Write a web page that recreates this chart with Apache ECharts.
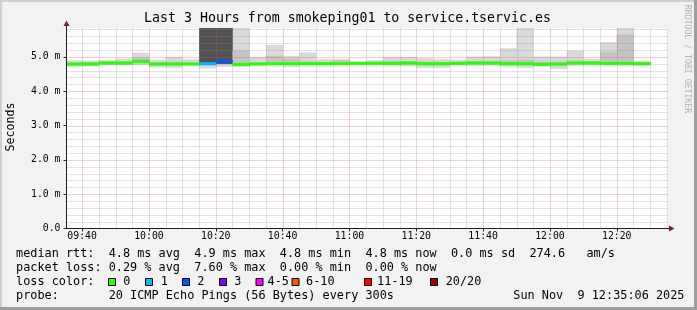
<!DOCTYPE html>
<html><head><meta charset="utf-8">
<script src="https://cdn.jsdelivr.net/npm/echarts@6/dist/echarts.min.js"></script>
<style>html,body{margin:0;padding:0;background:#f2f2f2}#c{width:697px;height:310px}</style>
</head><body><div id="c"></div>
<script>
// ---- data ----
const startMinute = 575;            // 09:35, start of the first 5-minute step
const stepMinutes = 5;
const xTickLabels = ['09:40','10:00','10:20','10:40','11:00','11:20','11:40','12:00','12:20'];
const yTickLabels = ['0.0','1.0 m','2.0 m','3.0 m','4.0 m','5.0 m'];
// median rtt per 5-min step (ms)
const median = [4.79,4.79,4.82,4.82,4.87,4.79,4.79,4.79,4.80,4.87,4.78,4.79,4.80,4.80,4.80,4.80,4.80,4.81,4.81,4.81,4.82,4.80,4.80,4.81,4.82,4.82,4.80,4.80,4.78,4.79,4.82,4.82,4.81,4.81,4.80];
// lost pings (of 20) per step
const lossCount = [0,0,0,0,0,0,0,0,1,2,0,0,0,0,0,0,0,0,0,0,0,0,0,0,0,0,0,0,0,0,0,0,0,0,0];
// smoke: full range of the 20 pings (ms)
const smokeMin = [4.71,4.73,4.76,4.76,4.76,4.69,4.68,4.76,4.66,4.71,4.71,4.76,4.76,4.71,4.76,4.76,4.76,4.77,4.76,4.74,4.73,4.68,4.68,4.75,4.74,4.74,4.72,4.68,4.72,4.65,4.74,4.75,4.74,4.74,4.74];
const smokeMax = [4.90,4.89,4.90,4.95,5.12,4.92,5.00,4.93,6.30,6.30,6.20,5.00,5.35,5.03,5.13,4.93,4.93,4.87,4.90,5.00,5.00,4.96,4.93,4.92,5.01,5.02,5.25,6.20,5.01,5.01,5.18,4.95,5.43,6.20,4.88];
// smoke: inner (denser) part of the pings (ms)
const smokeLow  = [4.75,4.75,4.78,4.78,4.80,4.75,4.75,4.76,4.76,4.79,4.74,4.76,4.76,4.76,4.76,4.76,4.77,4.77,4.77,4.78,4.78,4.75,4.75,4.77,4.78,4.78,4.76,4.75,4.74,4.74,4.78,4.78,4.77,4.77,4.76];
const smokeHigh = [4.84,4.84,4.87,4.88,4.98,4.85,4.86,4.84,6.30,6.30,5.19,4.85,5.03,4.95,4.87,4.86,4.90,4.85,4.86,4.88,4.88,4.86,4.86,4.86,4.88,4.88,4.90,4.92,4.86,4.86,4.90,4.88,5.15,5.65,4.84];
const lossLabels = ['0','1','2','3','4-5','6-10','11-19','20/20'];
const lossColors = ['#26ff00','#00b8ff','#0059ff','#7e00ff','#ff00ff','#ff5500','#ff0000','#a10000'];
const titleText = 'Last 3 Hours from smokeping01 to service.tservic.es';
const statsLines = [
  'median rtt:  4.8 ms avg  4.9 ms max  4.8 ms min  4.8 ms now  0.0 ms sd  274.6   am/s',
  'packet loss: 0.29 % avg  7.60 % max  0.00 % min  0.00 % now',
  'loss color:',
  'probe:       20 ICMP Echo Pings (56 Bytes) every 300s'
];
const dateText = 'Sun Nov  9 12:35:06 2025';

// ---- chart ----
const X_MIN = 575 + 20/60, X_MAX = X_MIN + 180, Y_MAX = 5.84;
const MONO = '"DejaVu Sans Mono", monospace';
const MINOR = 'rgba(143,143,143,0.5)', MAJOR = 'rgba(222,79,79,0.55)';
const xTickValues = xTickLabels.map(s => { const p = s.split(':'); return (+p[0])*60 + (+p[1]); });
function lossIndex(n){ if(n<=3) return n; if(n<=5) return 4; if(n<=10) return 5; if(n<=19) return 6; return 7; }
function clipRect(r, params){ const cs = params.coordSys; return echarts.graphic.clipRectByRect(r, {x:cs.x,y:cs.y,width:cs.width,height:cs.height}); }
function bandRender(fillFn){
  return (params, api) => {
    const x0 = api.value(0), lo = api.value(1), hi = api.value(2);
    const p1 = api.coord([x0, hi]), p2 = api.coord([x0 + stepMinutes, lo]);
    const shape = clipRect({x:p1[0], y:p1[1], width:p2[0]-p1[0]+0.4, height:p2[1]-p1[1]}, params);
    if (!shape) return null;
    return {type:'rect', shape, style:{fill: fillFn(params.dataIndex)}};
  };
}
const idx = median.map((_, i) => startMinute + i*stepMinutes);
const gridX = []; for (let m = 580; m <= 755; m += 5) gridX.push([m, 0]);
const gridY = []; for (let k = 1; k <= 29; k++) gridY.push([X_MIN, +(k*0.2).toFixed(1)]);

const graphics = [
  {type:'rect', shape:{x:0,y:0,width:697,height:2}, style:{fill:'#cfcfcf'}},
  {type:'rect', shape:{x:0,y:0,width:2,height:310}, style:{fill:'#cfcfcf'}},
  {type:'rect', shape:{x:694,y:0,width:3,height:310}, style:{fill:'#9e9e9e'}},
  {type:'rect', shape:{x:0,y:307,width:697,height:3}, style:{fill:'#9e9e9e'}},
  {type:'text', style:{text:titleText, x:347.5, y:18.5, font:'13.25px '+MONO, fill:'#000', align:'center', verticalAlign:'middle'}},
  {type:'text', rotation:Math.PI/2, x:10.5, y:127, style:{text:'Seconds', x:0, y:0, font:'11.6px '+MONO, fill:'#000', align:'center', verticalAlign:'middle'}},
  {type:'text', rotation:-Math.PI/2, x:687.5, y:59, style:{text:'RRDTOOL / TOBI OETIKER', x:0, y:0, font:'8.2px '+MONO, fill:'#b4b4b4', align:'center', verticalAlign:'middle'}},
  // axis extensions and arrows
  {type:'line', shape:{x1:66.5,y1:28,x2:66.5,y2:24}, style:{stroke:'#1f1f1f', lineWidth:1}},
  {type:'polygon', shape:{points:[[63.5,26],[69.5,26],[66.5,20.5]]}, style:{fill:'#801f1f'}},
  {type:'line', shape:{x1:668,y1:228.5,x2:671,y2:228.5}, style:{stroke:'#1f1f1f', lineWidth:1}},
  {type:'polygon', shape:{points:[[669,225.5],[669,231.5],[674.5,228.5]]}, style:{fill:'#801f1f'}}
];
statsLines.forEach((t, i) => graphics.push({type:'text', style:{text:t, x:16, y:254.3 + i*14, font:'11.85px '+MONO, fill:'#000', align:'left', verticalAlign:'middle'}}));
graphics.push({type:'text', style:{text:dateText, x:513.3, y:296.3, font:'11.85px '+MONO, fill:'#000', align:'left', verticalAlign:'middle'}});
const sqX = [108.5,145.5,182.5,219.5,256,292,364.5,430.5];
const lbX = [123.3,160.7,197.3,234.3,267.5,306,377,445.7];
lossLabels.forEach((l, i) => {
  graphics.push({type:'rect', shape:{x:sqX[i], y:278.5, width:7, height:7}, style:{fill:lossColors[i], stroke:'#000', lineWidth:1}});
  graphics.push({type:'text', style:{text:l, x:lbX[i], y:282.3, font:'11.85px '+MONO, fill:'#000', align:'left', verticalAlign:'middle'}});
});

const chart = echarts.init(document.getElementById('c'), null, {renderer:'canvas', width:697, height:310});
chart.setOption({
  animation:false,
  backgroundColor:'#f2f2f2',
  grid:{left:66.5, right:29, top:28, bottom:81.5, show:true, backgroundColor:'#ffffff', borderWidth:0},
  xAxis:{type:'value', min:X_MIN, max:X_MAX, z:6,
    axisLine:{show:true, onZero:false, lineStyle:{color:'#1f1f1f', width:1}},
    axisTick:{show:true, length:3, customValues:xTickValues, lineStyle:{color:'#1f1f1f'}},
    axisLabel:{customValues:xTickValues, margin:3, fontFamily:'DejaVu Sans Mono', fontSize:9.8, color:'#000',
      formatter:v => { const i = xTickValues.findIndex(t => Math.abs(t - v) < 1e-6); return i >= 0 ? xTickLabels[i] : ''; }},
    splitLine:{show:false}},
  yAxis:{type:'value', min:0, max:Y_MAX, interval:1, z:6,
    axisLine:{show:true, lineStyle:{color:'#1f1f1f', width:1}},
    axisTick:{show:true, length:3, lineStyle:{color:'#1f1f1f'}},
    axisLabel:{margin:6, fontFamily:'DejaVu Sans Mono', fontSize:9.8, color:'#000', showMaxLabel:false,
      formatter:v => { const r = Math.round(v); return Math.abs(v - r) < 1e-6 && yTickLabels[r] ? yTickLabels[r] : ''; }},
    splitLine:{show:false}},
  graphic:{elements:graphics},
  series:[
    {type:'custom', name:'smoke', z:2, silent:true, data: idx.map((x,i)=>[x, smokeMin[i], smokeMax[i]]), renderItem: bandRender(()=>'#d9d9d9')},
    {type:'custom', name:'smoke core', z:2, silent:true, data: idx.map((x,i)=>[x, smokeLow[i], smokeHigh[i]]), renderItem: bandRender(i => lossCount[i] > 0 ? '#525252' : '#c4c4c4')},
    {type:'custom', name:'xgrid', z:3, silent:true, data: gridX, renderItem:(params, api) => {
      const v = api.value(0); const a = api.coord([v, 0]), b = api.coord([v, Y_MAX]);
      const x = Math.round(a[0]) + 0.5;
      return {type:'line', shape:{x1:x, y1:a[1], x2:x, y2:b[1]}, style:{stroke: (v % 20 === 0) ? MAJOR : MINOR, lineWidth:1, lineDash:[1,1]}};
    }},
    {type:'custom', name:'ygrid', z:3, silent:true, data: gridY, renderItem:(params, api) => {
      const v = api.value(1); const a = api.coord([X_MIN, v]), b = api.coord([X_MAX, v]);
      const y = Math.round(a[1]) + 0.5;
      const major = Math.abs(v - Math.round(v)) < 1e-6;
      return {type:'line', shape:{x1:a[0], y1:y, x2:b[0], y2:y}, style:{stroke: major ? MAJOR : MINOR, lineWidth:1, lineDash:[1,1]}};
    }},
    {type:'custom', name:'median', z:4, silent:true, data: idx.map((x,i)=>[x, median[i]]), renderItem:(params, api) => {
      const x0 = api.value(0), m = api.value(1);
      const p1 = api.coord([x0, m]), p2 = api.coord([x0 + stepMinutes, m]);
      const shape = clipRect({x:p1[0], y:p1[1]-1.5, width:p2[0]-p1[0]+0.4, height:3}, params);
      if (!shape) return null;
      return {type:'rect', shape, style:{fill: lossColors[lossIndex(lossCount[params.dataIndex])]}};
    }}
  ]
});
</script>
</body></html>
